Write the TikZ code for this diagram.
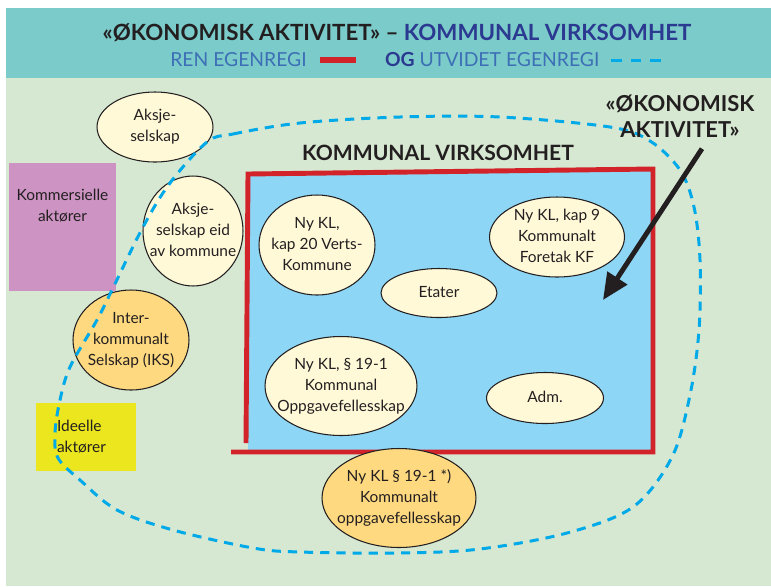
\documentclass[tikz,border=0pt]{standalone}
\usepackage{fontspec}
\setmainfont{Lato}
\usetikzlibrary{shapes.geometric,arrows.meta,positioning}

\definecolor{bakgrunn}{HTML}{D6E8D2}
\definecolor{topplinje}{HTML}{7ACBC9}
\definecolor{kommblaa}{HTML}{8ED6F5}
\definecolor{egenrod}{HTML}{D2232A}
\definecolor{krem}{HTML}{FFF9D8}
\definecolor{oransje}{HTML}{FFD980}
\definecolor{lilla}{HTML}{CC93C3}
\definecolor{gul}{HTML}{EBE61E}
\definecolor{cyan}{HTML}{00A9E8}
\definecolor{morkblaa}{HTML}{2B3990}
\definecolor{lysblaa}{HTML}{3D6FB6}
\definecolor{tekst}{HTML}{231F20}

% tekst i ellipse uten at ellipsen vokser
\newcommand\ellitekst[1]{\smash{\makebox[0pt]{\raisebox{-0.27em}{%
    \begin{tabular}{@{}c@{}}#1\end{tabular}}}}}

\begin{document}
\begin{tikzpicture}[
    x=0.02cm, y=-0.02cm,
    elli/.style      = {ellipse, draw=tekst, line width=0.6pt, fill=krem,
                        inner sep=0pt, text=tekst,
                        font=\fontsize{8.8}{12}\selectfont},
    ikse/.style      = {elli, fill=oransje},
    aktor/.style     = {rectangle, inner sep=0pt, text=tekst,
                        font=\fontsize{8.8}{12}\selectfont},
    egenregi/.style  = {draw=egenrod, line width=2.8pt, line join=miter},
    utvidet/.style   = {draw=cyan, line width=1.7pt,
                        dash pattern=on 5.2pt off 4pt},
    pil/.style       = {-{Triangle[length=15pt, width=13pt]},
                        line width=2.8pt, draw=tekst},
    tittel/.style    = {font=\fontsize{12}{14}\selectfont\bfseries, text=tekst},
    leg/.style       = {font=\fontsize{11}{12}\selectfont, text=lysblaa,
                        inner sep=0pt},
]

% ------------------------------------------------------------
%  BAKGRUNN OG TOPPFELT
% ------------------------------------------------------------
\useasboundingbox (0,0) rectangle (771,586);
\fill[white] (0,0) rectangle (771,586);
\fill[bakgrunn] (6,78) rectangle (771,586);
\fill[topplinje] (6,8) rectangle (771,78);

% tittel
\node[tittel, font=\fontsize{12.7}{14}\selectfont\bfseries] (tittel) at (397,33)
    {«ØKONOMISK AKTIVITET» – \textcolor{morkblaa}{KOMMUNAL VIRKSOMHET}};

% forklaring
\node[leg, anchor=east] (ren) at (307,60) {REN EGENREGI};
\node[fill=egenrod, inner sep=0pt, minimum width=0.72cm,
      minimum height=0.11cm, right=13 of ren] (rodstrek) {};
\node[leg, right=28 of rodstrek] (og)
    {\textcolor{morkblaa}{\bfseries OG} UTVIDET EGENREGI};
\draw[utvidet, dash pattern=on 6.2pt off 5.1pt]
    ([xshift=0.22cm]og.east) -- ++(51,0);

% ------------------------------------------------------------
%  KOMMUNAL VIRKSOMHET (ren egenregi)
% ------------------------------------------------------------
\fill[kommblaa] (250,176) -- (651,170) -- (651,450) -- (248,450) -- cycle;
\draw[egenregi] (246,443) -- (248,174) -- (653,169) -- (653,452) -- (231,452);
\node[tittel] (kommvirk) at (438,153) {KOMMUNAL VIRKSOMHET};

% innenfor
\node[elli, minimum width=2.32cm, minimum height=2cm] (verts) at (317,245)
    {\ellitekst{Ny KL,\\kap 20 Verts-\\Kommune}};
\node[elli, minimum width=2.7cm, minimum height=1.6cm] (kf) at (557,237)
    {\ellitekst{Ny KL, kap 9\\Kommunalt\\Foretak KF}};
\node[elli, minimum width=2.32cm, minimum height=0.98cm] (etater) at (439,293)
    {\ellitekst{Etater}};
\node[elli, minimum width=3.04cm, minimum height=1.98cm] (oppg) at (341,386)
    {\ellitekst{Ny KL, § 19-1\\Kommunal\\Oppgavefellesskap}};
\node[elli, minimum width=2.34cm, minimum height=1.02cm] (adm) at (545,398)
    {\ellitekst{Adm.}};

% ------------------------------------------------------------
%  UTENFOR
% ------------------------------------------------------------
\node[elli, minimum width=2.32cm, minimum height=1.4cm] (aksje) at (155,127)
    {\ellitekst{Aksje-\\selskap}};
\node[elli, minimum width=2cm, minimum height=2.2cm] (aksjeeid) at (193,231)
    {\ellitekst{Aksje-\\selskap eid\\av kommune}};
\node[ikse, minimum width=2.32cm, minimum height=2cm] (iks) at (131,340)
    {\ellitekst{Inter-\\kommunalt\\Selskap (IKS)}};
\node[ikse, minimum width=3.08cm, minimum height=1.98cm] (ks19) at (399,498)
    {\ellitekst{Ny KL § 19-1 *)\\Kommunalt\\oppgavefellesskap}};

\node[aktor, fill=lilla, minimum width=2.14cm, minimum height=2.56cm,
      label={[aktor, align=center, anchor=north, yshift=-0.52cm]north:
             Kommersielle\\aktører}] (kommersielle) at (62.5,227) {};
\node[aktor, fill=gul, minimum width=2cm, minimum height=1.36cm,
      text width=1.16cm, align=left] (ideelle) at (86,437) {Ideelle\\aktører};

% ------------------------------------------------------------
%  UTVIDET EGENREGI (stiplet)
% ------------------------------------------------------------
\draw[utvidet] plot[smooth cycle, tension=0.55] coordinates {
    (207,142) (233,134) (300,123) (400,117) (500,117) (610,127)
    (650,141) (680,170) (694,207) (700,260) (699,330) (690,395)
    (672,457) (633,507) (567,533) (480,549) (400,553) (300,552)
    (253,548) (173,530) (117,510) (80,480) (58,458) (55,433)
    (60,400) (70,367) (97,320) (112,290) (143,227) (170,183)};

% ------------------------------------------------------------
%  «ØKONOMISK AKTIVITET» med pil
% ------------------------------------------------------------
\node[tittel, align=center, font=\fontsize{12.5}{15}\selectfont\bfseries]
    (oeko) at (680,116) {«ØKONOMISK\\AKTIVITET»};
\coordinate (pilspiss) at (603,300);
\draw[pil] ([xshift=0.44cm, yshift=-0.1cm]oeko.south) -- (pilspiss);

\end{tikzpicture}
\end{document}
